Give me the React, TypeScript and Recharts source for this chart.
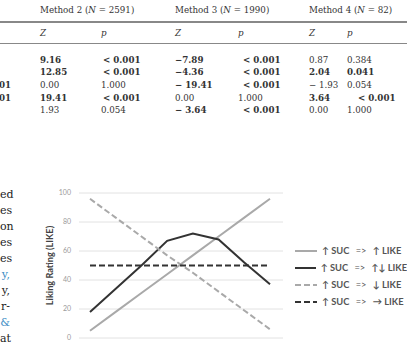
import React from 'react'
import { LineChart, Line, XAxis, YAxis, CartesianGrid, Legend } from 'recharts'

// chart values
const steps = ['1', '2', '3', '4', '5', '6', '7', '8']
const upUp = [5, 18, 31, 44, 57, 70, 83, 96]
const upUpDown = [18, 34, 50, 67, 72, 68, 52, 37]
const upDown = [96, 83, 70, 57, 45, 32, 19, 6]
const upFlat = [50, 50, 50, 50, 50, 50, 50, 50]
const yTicks = [0, 20, 40, 60, 80, 100]
const legendNames = ['↑ LIKE', '↑↓ LIKE', '↓ LIKE', '→ LIKE']

// table values
const methods = ['Method 2', 'Method 3', 'Method 4']
const methodN = ['2591', '1990', '82']
const zCols = [
  ['9.16', '12.85', '0.00', '19.41', '1.93'],
  ['−7.89', '−4.36', '− 19.41', '0.00', '− 3.64'],
  ['0.87', '2.04', '− 1.93', '3.64', '0.00'],
]
const pCols = [
  ['< 0.001', '< 0.001', '1.000', '< 0.001', '0.054'],
  ['< 0.001', '< 0.001', '< 0.001', '1.000', '< 0.001'],
  ['0.384', '0.041', '0.054', '< 0.001', '1.000'],
]
const boldZ = [
  [true, true, false, true, false],
  [true, true, true, false, true],
  [false, true, false, true, false],
]
const boldP = [
  [true, true, false, true, false],
  [true, true, true, false, true],
  [false, true, false, true, false],
]
const leftStub = ['', '', '01', '01', '']
const paraEnds = ['ed', 'es', 'on', 'es', 'es', 'y,', 'y,', 'r-', '&', 'at']
const paraLinks = [false, false, false, false, false, true, false, false, true, false]

const data = steps.map((s, i) => ({
  step: s,
  upUp: upUp[i],
  upUpDown: upUpDown[i],
  upDown: upDown[i],
  upFlat: upFlat[i],
}))

const series = [
  { key: 'upUp', color: '#a9a9a9', dash: undefined },
  { key: 'upUpDown', color: '#333333', dash: undefined },
  { key: 'upDown', color: '#a9a9a9', dash: '6 3' },
  { key: 'upFlat', color: '#333333', dash: '6 3' },
]

const serif = '"DejaVu Serif", serif'
const sans = 'Lato, "Open Sans", sans-serif'

const zX = [40, 175, 309]
const pX = [101, 238, 347]
const ltShift = [2, 5, 11]
const rowY = [54.5, 67.2, 79.9, 92.6, 105.3]
const cell = { position: 'absolute' as const, fontFamily: serif, fontSize: 8.7, whiteSpace: 'nowrap' as const }

function ChartLegend() {
  return (
    <div style={{ fontFamily: sans, fontSize: 9.3, fontWeight: 700, color: '#555' }}>
      {series.map((s, i) => (
        <div key={s.key} style={{ display: 'flex', alignItems: 'center', height: 17 }}>
          <svg width={22} height={6} style={{ marginRight: 5 }}>
            <line x1={0} y1={3} x2={22} y2={3} stroke={s.color} strokeWidth={2} strokeDasharray={s.dash} />
          </svg>
          <span style={{ whiteSpace: 'nowrap' }}>
            ↑ SUC <span style={{ fontWeight: 400, margin: '0 4px' }}>=&gt;</span> {legendNames[i]}
          </span>
        </div>
      ))}
    </div>
  )
}

export default function App() {
  return (
    <div style={{ position: 'absolute', left: 0, top: 0, width: 407, height: 347, overflow: 'hidden', background: '#fff', color: '#333' }}>
      {methods.map((m, i) => (
        <div key={m} style={{ ...cell, left: zX[i], top: 4.5 }}>
          {m} (<i>N</i> = {methodN[i]})
        </div>
      ))}
      <div style={{ position: 'absolute', left: 0, top: 21, width: 407, height: 1.5, background: '#888' }} />
      {methods.map((m, i) => (
        <React.Fragment key={m + 'h'}>
          <div style={{ ...cell, left: zX[i], top: 27.5, fontStyle: 'italic' }}>Z</div>
          <div style={{ ...cell, left: pX[i], top: 27.5, fontStyle: 'italic' }}>p</div>
        </React.Fragment>
      ))}
      <div style={{ position: 'absolute', left: 0, top: 42.5, width: 407, height: 1.5, background: '#888' }} />
      {rowY.map((y, r) => (
        <React.Fragment key={r}>
          {leftStub[r] && (
            <div style={{ ...cell, left: -1, top: y, fontWeight: 700 }}>{leftStub[r]}</div>
          )}
          {methods.map((m, i) => (
            <React.Fragment key={m}>
              <div style={{ ...cell, left: zX[i], top: y, fontWeight: boldZ[i][r] ? 700 : 400 }}>
                {zCols[i][r]}
              </div>
              <div style={{ ...cell, left: pX[i] + (pCols[i][r].startsWith('<') ? ltShift[i] : 0), top: y, fontWeight: boldP[i][r] ? 700 : 400 }}>
                {pCols[i][r]}
              </div>
            </React.Fragment>
          ))}
        </React.Fragment>
      ))}
      {paraEnds.map((t, i) => (
        <div key={i} style={{ position: 'absolute', left: 0, width: 10, top: 187 + i * 16, textAlign: 'right', fontFamily: serif, fontSize: 11, lineHeight: '16px', color: paraLinks[i] ? '#3b8cc4' : '#222', whiteSpace: 'nowrap' }}>
          {t}
        </div>
      ))}
      <div style={{ position: 'absolute', left: 0, top: 180 }}>
        <LineChart width={407} height={165} data={data} margin={{ top: 13, right: 124, bottom: 7, left: 0 }}>
          <CartesianGrid vertical={false} stroke="#e2e2e2" />
          <XAxis dataKey="step" hide padding={{ left: 11, right: 13 }} />
          <YAxis
            width={79}
            domain={[0, 100]}
            ticks={yTicks}
            axisLine={false}
            tickLine={false}
            tick={{ fill: '#9a9a9a', fontSize: 7, fontFamily: sans }}
            label={{
              content: (p: any) => {
                const vb = p.viewBox || { x: 0, y: 13, width: 79, height: 145 }
                const cx = vb.x + 53
                const cy = vb.y + vb.height / 2
                return (
                  <text x={cx} y={cy} transform={`rotate(-90 ${cx} ${cy})`} textAnchor="middle" fontFamily={sans} fontSize={9.2} fontWeight={700} fill="#444">
                    Liking Rating (LIKE)
                  </text>
                )
              },
            }}
          />
          {series.map((s) => (
            <Line key={s.key} dataKey={s.key} stroke={s.color} strokeWidth={2} strokeDasharray={s.dash} dot={false} type="linear" isAnimationActive={false} />
          ))}
          <Legend layout="vertical" align="center" verticalAlign="middle" content={() => <ChartLegend />} wrapperStyle={{ left: 295, top: 62, width: 112 }} />
        </LineChart>
      </div>
    </div>
  )
}
